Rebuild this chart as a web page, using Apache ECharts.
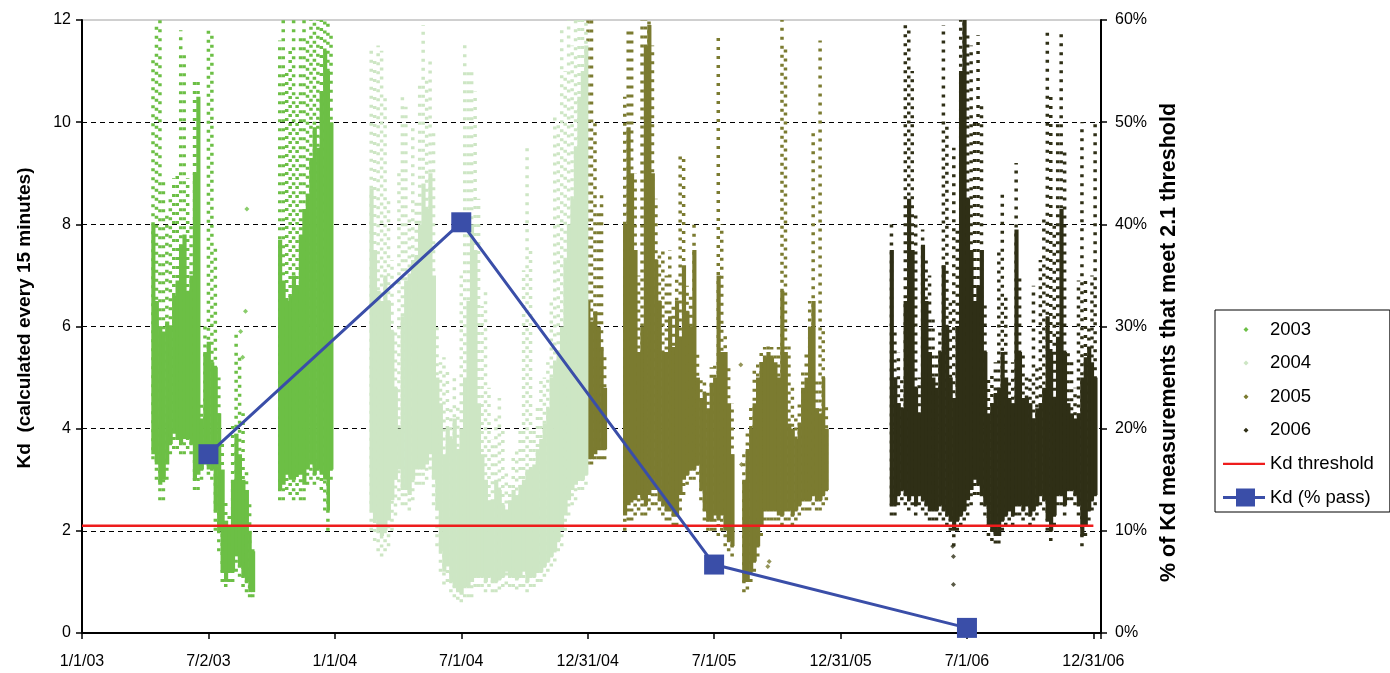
<!DOCTYPE html>
<html><head><meta charset="utf-8">
<script src="https://cdn.jsdelivr.net/npm/echarts@6/dist/echarts.min.js"></script>
<style>html,body{margin:0;padding:0;background:#fff}#c{width:1390px;height:673px}</style>
</head><body><div id="c"></div>
<script>
// x values are days since 1/1/03; each row: [day, sparseLow, denseLow, denseHigh, sparseHigh]
var tickLabels = ['1/1/03','7/2/03','1/1/04','7/1/04','12/31/04','7/1/05','12/31/05','7/1/06','12/31/06'];
var rightTickSuffix = '%';

var kd2003 = [
[100,3.4,3.5,8.0,11.3],[105,3.0,3.3,6.5,11.9],[110,2.6,2.9,6.0,12.0],[115,2.6,3.0,5.9,8.9],[120,3.0,3.3,6.1,8.2],
[125,3.5,3.7,6.0,8.5],[130,3.6,3.9,6.6,8.9],[135,3.6,3.8,6.9,9.0],[140,3.5,3.7,7.6,11.8],[145,3.5,3.8,7.8,11.4],
[150,3.6,3.8,6.7,8.9],[155,3.5,3.7,7.0,8.0],[160,2.8,3.0,9.0,10.8],[165,2.8,3.1,10.5,10.8],[170,3.0,3.2,4.2,4.5],
[175,3.3,3.5,5.5,6.0],[180,3.1,3.2,5.7,11.9],[185,3.0,3.2,5.3,11.8],[190,2.0,2.4,5.2,7.6],[195,1.6,2.0,4.3,5.0],
[200,1.0,1.2,3.2,3.8],[205,0.9,1.0,2.2,2.6],[210,1.0,1.2,2.1,2.4],[215,1.0,1.2,3.0,4.1],[220,1.2,1.5,3.9,5.9],
[225,1.1,1.3,3.5,5.4],[230,0.9,1.1,3.0,4.3],[235,0.8,1.0,2.8,3.2],[240,0.7,0.8,2.0,2.6],[244,0.7,0.8,1.6,1.7],
[283,2.6,2.8,7.7,11.6],[288,2.6,2.9,6.9,12.0],[293,2.8,3.1,6.5,11.0],[298,2.7,3.0,6.6,11.5],[303,2.6,3.0,7.0,12.0],
[308,2.7,3.1,6.8,10.5],[313,2.6,3.1,7.8,11.7],[318,2.6,2.9,8.3,12.0],[323,2.9,3.2,8.6,11.6],[328,3.0,3.3,9.3,12.0],
[333,2.9,3.1,9.9,12.0],[338,3.0,3.2,9.5,12.0],[343,2.8,3.1,10.6,12.0],[348,2.4,3.0,11.4,12.0],[353,2.0,2.4,11.0,12.0],
[357,3.0,3.2,10.0,11.8]
];
var out2003 = [[238,8.3],[236,6.3],[229,5.9],[232,5.4]];

var kd2004 = [
[415,2.0,2.4,8.7,11.4],[420,1.8,2.2,7.5,11.3],[425,1.6,2.0,6.7,11.5],[430,1.5,1.9,6.5,11.4],[435,1.6,2.0,7.0,10.5],
[440,1.7,2.2,6.5,8.5],[445,2.0,2.6,5.9,7.3],[450,2.3,3.0,4.8,6.0],[455,2.6,3.2,4.0,9.0],[460,2.5,2.8,6.2,10.5],
[465,2.5,2.8,6.9,10.3],[470,2.4,2.7,7.0,8.2],[475,2.6,3.0,7.3,9.9],[480,2.9,3.2,7.4,8.5],[485,2.9,3.2,8.0,10.8],
[490,2.9,3.2,8.8,11.9],[495,3.0,3.3,8.3,10.9],[500,3.2,3.5,9.0,11.2],[505,2.5,3.0,7.0,9.8],[510,1.7,2.4,5.0,6.0],
[515,1.2,1.6,4.5,5.3],[520,0.95,1.2,3.5,5.4],[525,1.0,1.3,4.0,5.2],[530,0.8,1.0,3.8,4.4],[535,0.7,0.9,4.2,5.0],
[540,0.65,0.8,3.6,4.5],[545,0.6,0.75,4.0,7.0],[550,0.7,0.9,5.0,11.6],[555,0.7,0.9,6.5,11.0],[560,0.7,1.0,8.0,11.0],
[565,0.9,1.1,7.5,10.6],[570,0.9,1.1,4.5,8.5],[575,0.9,1.1,3.5,6.4],[580,0.8,1.0,3.0,6.7],[585,0.9,1.1,2.6,4.8],
[590,0.8,1.0,2.6,3.8],[595,0.8,1.0,3.0,4.2],[600,0.85,1.05,2.8,4.6],[605,0.9,1.1,2.5,4.0],[610,0.95,1.2,2.4,3.2],
[615,0.9,1.1,2.6,3.0],[620,0.9,1.1,2.8,3.5],[625,0.85,1.05,2.7,3.6],[630,0.9,1.1,2.9,4.0],[635,0.9,1.2,3.0,7.1],
[640,0.8,1.0,3.2,9.5],[645,0.9,1.1,3.2,7.5],[650,0.9,1.1,3.3,4.0],[655,1.0,1.2,3.6,4.5],[660,1.0,1.2,3.8,5.0],
[665,1.1,1.3,4.1,5.0],[670,1.2,1.4,4.4,5.3],[675,1.3,1.5,5.0,6.5],[680,1.4,1.6,5.3,10.2],[685,1.6,1.8,5.5,10.0],
[690,1.7,2.0,6.0,11.9],[695,2.0,2.3,7.3,11.0],[700,2.3,2.6,8.0,12.0],[705,2.5,2.8,8.5,11.5],[710,2.6,2.9,9.5,12.0],
[715,2.8,3.0,10.5,12.0],[720,2.8,3.0,11.0,12.0],[725,2.9,3.1,11.5,12.0]
];

var kd2005 = [
[728,3.3,3.4,6.5,12.0],[733,3.3,3.4,6.1,12.0],[738,3.4,3.5,6.3,10.0],[743,3.4,3.6,6.0,8.3],[748,3.4,3.6,5.6,8.6],
[752,3.4,3.6,4.8,5.5],
[781,2.0,2.3,8.0,10.5],[786,2.2,2.5,9.9,11.8],[791,2.2,2.6,9.0,11.8],[796,2.3,2.6,7.5,9.0],[801,2.4,2.7,5.5,7.0],
[806,2.3,2.6,6.0,12.0],[811,2.3,2.5,11.5,12.0],[816,2.4,2.7,11.9,12.0],[821,2.5,2.8,9.0,11.5],[826,2.5,2.8,7.3,8.5],
[831,2.4,2.6,6.5,7.5],[836,2.3,2.5,5.5,7.5],[841,2.2,2.4,5.5,7.0],[846,2.2,2.4,6.2,7.5],[851,2.1,2.3,5.6,6.5],
[856,2.1,2.3,6.5,7.0],[861,2.4,2.7,5.8,9.4],[866,2.7,3.0,7.2,9.3],[871,2.9,3.1,6.3,6.8],[876,3.0,3.2,6.0,6.6],
[881,3.0,3.2,7.5,8.0],[886,3.1,3.3,5.0,5.5],[891,2.6,2.8,4.6,5.0],[896,2.2,2.4,4.7,5.0],[901,2.0,2.2,4.4,4.8],
[906,2.0,2.2,4.9,5.2],[911,2.0,2.3,5.0,5.3],[916,1.9,2.2,7.0,11.7],[921,2.0,2.3,5.5,8.0],[926,1.7,2.0,5.5,5.9],
[931,1.6,1.8,4.5,5.2],[936,1.5,1.7,3.5,4.5],
[953,0.8,1.0,3.0,3.5],[958,0.85,1.0,3.6,4.0],[963,1.0,1.2,4.0,4.5],[968,1.2,1.4,4.5,5.2],[973,1.5,1.7,5.0,5.3],
[978,1.9,2.1,5.3,5.6],[983,2.2,2.4,5.4,5.6],[988,2.2,2.4,5.5,5.7],[993,2.2,2.4,5.4,5.6],[998,2.2,2.4,5.3,5.5],
[1003,2.2,2.3,5.0,5.6],[1008,2.1,2.3,6.7,12.0],[1013,2.2,2.4,5.5,11.5],[1018,2.2,2.4,4.1,5.7],[1023,2.1,2.3,4.0,4.8],
[1028,2.2,2.4,3.8,4.3],[1033,2.3,2.5,4.1,4.5],[1038,2.4,2.6,4.8,5.2],[1043,2.4,2.6,5.0,5.5],[1048,2.4,2.6,6.0,6.5],
[1053,2.5,2.7,6.5,9.9],[1058,2.4,2.6,4.4,5.0],[1063,2.4,2.6,4.3,11.6],[1068,2.5,2.7,5.0,6.0],[1072,2.6,2.8,4.0,4.5]
];
var out2005 = [[951,5.25],[952,3.3],[990,1.3],[992,1.4]];

var kd2006 = [
[1166,2.3,2.5,7.5,8.0],[1171,2.3,2.5,5.0,6.0],[1176,2.5,2.7,4.5,5.5],[1181,2.6,2.8,4.4,5.0],[1186,2.5,2.7,6.5,12.0],
[1191,2.4,2.6,8.5,11.8],[1196,2.5,2.7,7.5,11.0],[1201,2.3,2.5,4.8,8.2],[1206,2.5,2.7,4.3,5.0],[1211,2.4,2.6,7.6,7.9],
[1216,2.3,2.5,6.5,7.3],[1221,2.2,2.4,5.5,7.0],[1226,2.2,2.4,5.0,6.2],[1231,2.2,2.4,4.8,5.5],[1236,2.3,2.5,5.5,6.0],
[1241,2.2,2.4,7.2,11.9],[1246,2.1,2.3,6.0,10.0],[1251,2.0,2.2,5.0,6.5],[1256,1.7,2.0,4.6,9.5],[1261,2.0,2.2,6.0,8.0],
[1266,2.1,2.3,11.0,12.0],[1271,2.2,2.4,12.0,12.0],[1276,2.3,2.6,8.5,11.8],[1281,2.5,2.8,7.5,11.5],[1286,2.7,3.0,6.5,10.0],
[1291,2.7,2.9,6.8,11.7],[1296,2.5,2.7,7.5,10.4],[1301,2.3,2.5,5.5,6.5],[1306,1.9,2.1,4.3,5.0],[1311,1.8,2.0,4.5,5.1],
[1316,1.75,1.9,4.7,5.3],[1321,1.75,1.9,4.8,7.5],[1326,2.0,2.2,5.5,8.6],[1331,2.1,2.3,5.0,6.6],[1336,2.2,2.4,4.6,5.0],
[1341,2.1,2.3,4.5,5.3],[1346,2.3,2.5,7.9,9.2],[1351,2.3,2.5,5.5,7.0],[1356,2.2,2.4,4.6,5.5],[1361,2.3,2.5,4.6,5.0],
[1366,2.1,2.3,4.5,5.0],[1371,2.2,2.4,4.2,6.8],[1376,2.3,2.5,4.4,5.2],[1381,2.5,2.7,4.5,7.3],[1386,2.4,2.6,4.8,8.1],
[1391,2.0,2.2,6.2,11.8],[1396,1.8,2.0,5.5,10.5],[1401,2.1,2.3,4.6,8.0],[1406,2.5,2.7,5.8,10.0],[1411,2.5,2.7,8.3,11.75],
[1416,2.3,2.5,5.5,9.5],[1421,2.6,2.8,4.5,5.5],[1426,2.6,2.8,4.3,5.3],[1431,2.5,2.7,4.2,4.8],[1436,2.3,2.5,4.3,6.9],
[1441,1.7,1.9,5.0,10.0],[1446,1.9,2.1,5.4,7.0],[1451,2.2,2.4,5.6,6.0],[1456,2.4,2.6,5.3,7.0],[1460,2.5,2.7,5.0,10.0]
];
var out2006 = [[1258,0.95],[1257,1.7],[1258,1.5]];

var thresholdX = [0, 1460];
var thresholdValue = 2.1;
var passX = [182.5, 547.5, 912.5, 1277.5];
var passPct = [17.5, 40.2, 6.7, 0.5];

var colors = {c2003:'#6cbf45', c2004:'#cde6c4', c2005:'#7b7b30', c2006:'#2f2f16', thr:'#ee1c1c', pass:'#3a4ea8'};

var CORNERS = 'M0,0L0.01,0L0,0.01Z M42,18L41.99,18L42,17.99Z ';
var iconDot = 'path://' + CORNERS + 'M23,6.5L25.5,9L23,11.5L20.5,9Z';
var iconThr = 'path://' + CORNERS + 'M0,7.8L42,7.8L42,10.2L0,10.2Z';
var iconPass = 'path://M0,7.5L13,7.5L13,0L32,0L32,7.5L42,7.5L42,10.5L32,10.5L32,18L13,18L13,10.5L0,10.5Z';

function makeRender(rows, color) {
  return function (params, api) {
    var i = params.dataIndex, r = rows[i];
    var nx = (i + 1 < rows.length && rows[i + 1][0] - r[0] <= 8) ? rows[i + 1][0] : r[0] + 5;
    var a = api.coord([r[0], r[2]]), b = api.coord([nx, r[3]]);
    var mid = (r[0] + nx) / 2;
    var s1 = api.coord([mid, r[1]]), s2 = api.coord([mid, r[4]]);
    return {type: 'group', children: [
      {type: 'line', shape: {x1: s1[0], y1: s1[1], x2: s2[0], y2: s2[1]},
       style: {stroke: color, lineWidth: 3.5, lineDash: [3, 6]}},
      {type: 'rect', shape: {x: a[0], y: b[1], width: b[0] - a[0] + 0.7, height: a[1] - b[1]},
       style: {fill: color}}
    ]};
  };
}
function bodySeries(name, rows, color) {
  return {name: name, type: 'custom', xAxisIndex: 0, yAxisIndex: 0, renderItem: makeRender(rows, color),
    data: rows, encode: {x: 0, y: [1, 2, 3, 4]}, itemStyle: {color: color}, silent: true};
}
function outSeries(name, pts, color) {
  return {name: name, type: 'scatter', data: pts, symbol: 'diamond', symbolSize: 5,
    itemStyle: {color: color}, silent: true};
}

var FONT = 'Liberation Sans, Arial, sans-serif';
var chart = echarts.init(document.getElementById('c'), null, {renderer: 'canvas'});
var option = {
  animation: false,
  backgroundColor: '#fff',
  textStyle: {fontFamily: FONT},
  grid: {left: 82, right: 289, top: 20, bottom: 40, show: true, borderColor: '#a0a0a0', borderWidth: 1},
  legend: {
    orient: 'vertical', left: 1215, top: 310, padding: [10, 16, 5, 8],
    itemWidth: 42, itemHeight: 18, itemGap: 14.6,
    borderColor: '#000', borderWidth: 1, backgroundColor: '#fff',
    textStyle: {fontSize: 18.5, color: '#000', fontFamily: FONT},
    data: [
      {name: '2003', icon: iconDot, itemStyle: {color: colors.c2003}},
      {name: '2004', icon: iconDot, itemStyle: {color: colors.c2004}},
      {name: '2005', icon: iconDot, itemStyle: {color: colors.c2005}},
      {name: '2006', icon: iconDot, itemStyle: {color: colors.c2006}},
      {name: 'Kd threshold', icon: iconThr, itemStyle: {color: colors.thr}},
      {name: 'Kd (% pass)', icon: iconPass, itemStyle: {color: colors.pass}}
    ],
    selectedMode: false
  },
  xAxis: {
    type: 'value', min: 0, max: 1471, interval: 182.5,
    axisLine: {lineStyle: {color: '#000', width: 2}},
    axisTick: {show: true, length: 6, lineStyle: {color: '#000', width: 1.5}},
    splitLine: {show: false},
    axisLabel: {
      fontSize: 16, color: '#000', margin: 21,
      formatter: function (v) {
        var k = Math.round(v / 182.5);
        return (Math.abs(v - k * 182.5) < 0.01 && k < tickLabels.length) ? tickLabels[k] : '';
      }
    }
  },
  yAxis: [
    {
      type: 'value', min: 0, max: 12, interval: 2, position: 'left',
      name: 'Kd  (calculated every 15 minutes)', nameLocation: 'middle', nameGap: 48, nameRotate: 90,
      nameTextStyle: {fontSize: 19, fontWeight: 'bold', color: '#000', padding: [0, 0, 0, 17]},
      axisLine: {show: true, lineStyle: {color: '#000', width: 2}},
      axisTick: {show: true, length: 6, lineStyle: {color: '#000', width: 1.5}},
      axisLabel: {fontSize: 16, color: '#000', margin: 11},
      splitLine: {show: true, showMinLine: false, showMaxLine: false, lineStyle: {color: '#000', type: [5, 4], width: 1}}
    },
    {
      type: 'value', min: 0, max: 60, interval: 10, position: 'right',
      name: '% of Kd measurements that meet 2.1 threshold', nameLocation: 'middle', nameGap: 55, nameRotate: 90,
      nameTextStyle: {fontSize: 21.5, fontWeight: 'bold', color: '#000', padding: [0, 32, 0, 0]},
      axisLine: {show: true, lineStyle: {color: '#000', width: 2}},
      axisTick: {show: true, length: 6, lineStyle: {color: '#000', width: 1.5}},
      axisLabel: {fontSize: 16, color: '#000', margin: 14, formatter: function (v) { return v + rightTickSuffix; }},
      splitLine: {show: false}
    }
  ],
  series: [
    bodySeries('2003', kd2003, colors.c2003),
    outSeries('2003', out2003, colors.c2003),
    bodySeries('2005', kd2005, colors.c2005),
    outSeries('2005', out2005, colors.c2005),
    bodySeries('2006', kd2006, colors.c2006),
    outSeries('2006', out2006, colors.c2006),
    {name: 'Kd threshold', type: 'line', symbol: 'none', yAxisIndex: 0,
     data: thresholdX.map(function (x) { return [x, thresholdValue]; }),
     lineStyle: {color: colors.thr, width: 2.5}, itemStyle: {color: colors.thr}, silent: true},
    bodySeries('2004', kd2004, colors.c2004),
    {name: 'Kd (% pass)', type: 'line', yAxisIndex: 1, symbol: 'rect', symbolSize: 20,
     data: passX.map(function (x, i) { return [x, passPct[i]]; }),
     lineStyle: {color: colors.pass, width: 3}, itemStyle: {color: colors.pass}, z: 10, silent: true}
  ]
};
chart.setOption(option);
</script>
</body></html>
